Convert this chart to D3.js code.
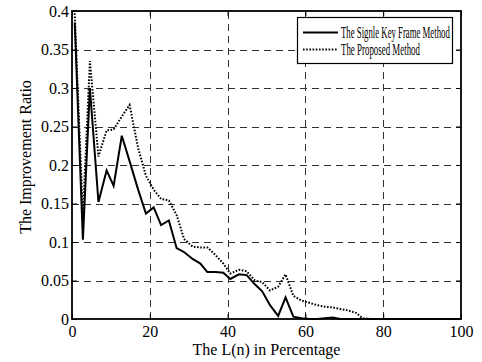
<!DOCTYPE html>
<html><head><meta charset="utf-8">
<script src="https://cdn.jsdelivr.net/npm/d3@7"></script>
<style>
html,body{margin:0;padding:0;background:#fff;}
svg text{font-family:"Liberation Serif","Times New Roman",serif;fill:#000;}
</style></head>
<body><svg id="c" width="482" height="362"></svg>
<script>
const xVals = [0.7, 2.8, 4.6, 6.8, 8.9, 10.7, 12.8, 14.8, 17, 19, 21, 22.9, 24.9, 26.9, 28.8, 31, 33, 34.8, 36.9, 38.9, 40.7, 42.9, 44.9, 47, 48.9, 50.9, 53, 54.9, 56.9, 59, 61, 63, 65, 67, 69, 71, 73, 74.7, 77, 80, 85, 90, 95, 100];
const singleKeyFrame = [0.385, 0.103, 0.300, 0.152, 0.193, 0.173, 0.238, 0.205, 0.168, 0.137, 0.145, 0.122, 0.128, 0.092, 0.087, 0.078, 0.072, 0.061, 0.061, 0.060, 0.052, 0.058, 0.057, 0.045, 0.036, 0.018, 0.004, 0.028, 0.003, 0.001, 0, 0, 0.001, 0.002, 0, 0, 0, 0, 0, 0, 0, 0, 0, 0];
const proposed = [0.397, 0.133, 0.335, 0.211, 0.245, 0.246, 0.263, 0.278, 0.222, 0.186, 0.168, 0.156, 0.154, 0.135, 0.104, 0.094, 0.093, 0.093, 0.083, 0.072, 0.059, 0.064, 0.062, 0.050, 0.048, 0.037, 0.042, 0.058, 0.030, 0.024, 0.021, 0.018, 0.016, 0.015, 0.013, 0.011, 0.008, 0.001, 0, 0, 0, 0, 0, 0];
const xTicks = [0, 20, 40, 60, 80, 100];
const yTicks = [0, 0.05, 0.1, 0.15, 0.2, 0.25, 0.3, 0.35, 0.4];
const yTickLabels = ["0", "0.05", "0.1", "0.15", "0.2", "0.25", "0.3", "0.35", "0.4"];
const seriesNames = ["The Signle Key Frame Method", "The Proposed Method"];

const L = 72, R = 461, T = 11, B = 319;
const svg = d3.select("#c");
const x = d3.scaleLinear().domain([0, 100]).range([L, R]);
const y = d3.scaleLinear().domain([0, 0.4]).range([B, T]);

// grid
const grid = svg.append("g").attr("stroke", "#333").attr("stroke-width", 1).attr("stroke-dasharray", "7,5");
grid.selectAll("line.v").data(xTicks.slice(1, -1)).join("line")
  .attr("x1", d => Math.round(x(d)) + 0.5).attr("x2", d => Math.round(x(d)) + 0.5)
  .attr("y1", B).attr("y2", T);
grid.selectAll("line.h").data(yTicks.slice(1, -1)).join("line")
  .attr("y1", d => Math.round(y(d)) + 0.5).attr("y2", d => Math.round(y(d)) + 0.5)
  .attr("x1", L).attr("x2", R);

// axes
const fmt = d => yTickLabels[yTicks.indexOf(d)];
const axB = svg.append("g").attr("transform", `translate(0,${B})`)
  .call(d3.axisBottom(x).tickValues(xTicks).tickSize(-5).tickPadding(7).tickFormat(d3.format("d")));
const axT = svg.append("g").attr("transform", `translate(0,${T})`)
  .call(d3.axisTop(x).tickValues(xTicks).tickSize(-5).tickFormat(""));
const axL = svg.append("g").attr("transform", `translate(${L},0)`)
  .call(d3.axisLeft(y).tickValues(yTicks).tickSize(-5).tickPadding(3).tickFormat(fmt));
const axR = svg.append("g").attr("transform", `translate(${R},0)`)
  .call(d3.axisRight(y).tickValues(yTicks).tickSize(-5).tickFormat(""));
[axB, axT, axL, axR].forEach(a => {
  a.select(".domain").remove();
  a.selectAll("line").attr("stroke", "#000").attr("stroke-width", 1);
  a.selectAll("text").attr("font-family", "Liberation Serif").attr("font-size", 16).attr("fill", "#000");
});
axB.selectAll("text").attr("dy", "0.71em");

// lines
const line = d3.line().x((d, i) => x(xVals[i])).y(d => y(d));
svg.append("path").datum(proposed).attr("d", line).attr("fill", "none")
  .attr("stroke", "#000").attr("stroke-width", 2).attr("stroke-dasharray", "1.6,1.6");
svg.append("path").datum(singleKeyFrame).attr("d", line).attr("fill", "none")
  .attr("stroke", "#000").attr("stroke-width", 2);

// box
svg.append("rect").attr("x", L).attr("y", T).attr("width", R - L).attr("height", B - T)
  .attr("fill", "none").attr("stroke", "#000").attr("stroke-width", 1.8);

// legend
const lg = svg.append("g");
lg.append("rect").attr("x", 297.5).attr("y", 17.5).attr("width", 155).attr("height", 46)
  .attr("fill", "#fff").attr("stroke", "#000").attr("stroke-width", 1.2);
const styles = [{dash: null, len: 109}, {dash: "1.6,1.6", len: 79}];
seriesNames.forEach((n, i) => {
  const yy = 32.5 + i * 17;
  lg.append("line").attr("x1", 303).attr("x2", 338).attr("y1", yy).attr("y2", yy)
    .attr("stroke", "#000").attr("stroke-width", 2).attr("stroke-dasharray", styles[i].dash);
  const g = lg.append("g");
  const t = g.append("text").attr("x", 0).attr("y", 0).attr("font-size", 16).text(n);
  const w = t.node().getComputedTextLength();
  g.attr("transform", `translate(341,${yy + 5}) scale(${styles[i].len / w},1)`);
});

// axis titles
svg.append("text").attr("x", (L + R) / 2).attr("y", 355).attr("text-anchor", "middle")
  .attr("font-size", 16).text("The L(n) in Percentage");
svg.append("text").attr("transform", `translate(31,157) rotate(-90)`).attr("text-anchor", "middle")
  .attr("font-size", 16).text("The Improvement Ratio");
</script></body></html>
